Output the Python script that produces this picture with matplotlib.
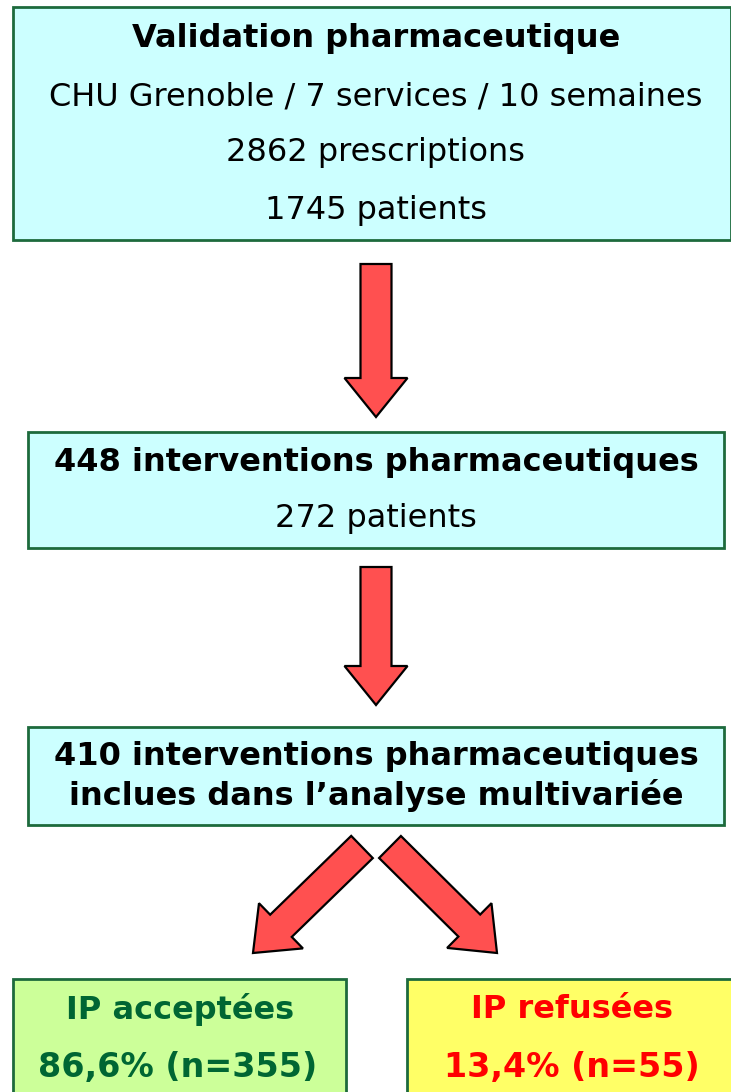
import matplotlib
matplotlib.use("Agg")
import matplotlib.pyplot as plt
from matplotlib.patches import Rectangle, FancyArrow

plt.rcParams['font.family'] = ['DejaVu Sans']

# box contents
box1_lines = ["Validation pharmaceutique",
              "CHU Grenoble / 7 services / 10 semaines",
              "2862 prescriptions",
              "1745 patients"]
box2_lines = ["448 interventions pharmaceutiques", "272 patients"]
box3_lines = ["410 interventions pharmaceutiques",
              "inclues dans l\u2019analyse multivariée"]
accepted_label = "IP acceptées"
accepted_pct = 86.6
accepted_n = 355
refused_label = "IP refusées"
refused_pct = 13.4
refused_n = 55

BORDER = "#1d6a3c"
CYAN = "#ccffff"
ARROW = "#ff5050"
FS = 23

fig = plt.figure(figsize=(7.31, 10.92), dpi=100)
ax = fig.add_axes([0, 0, 1, 1])
ax.set_xlim(0, 731)
ax.set_ylim(1092, 0)
ax.axis("off")


def box(x0, y0, x1, y1, fc):
    ax.add_patch(Rectangle((x0, y0), x1 - x0, y1 - y0, facecolor=fc,
                           edgecolor=BORDER, linewidth=2.0))


def arrow(x, y, dx, dy):
    ax.add_patch(FancyArrow(x, y, dx, dy, width=31, head_width=63,
                            head_length=39, length_includes_head=True,
                            facecolor=ARROW, edgecolor="black", linewidth=1.6))


def fmt(v):
    return ("%.1f" % v).replace(".", ",")


# box 1
box(13, 7, 731, 240, CYAN)
ys = [38, 97, 153, 211]
for i, (txt, y) in enumerate(zip(box1_lines, ys)):
    ax.text(376, y, txt, ha="center", va="center", fontsize=FS,
            fontweight="bold" if i == 0 else "normal", color="black")

arrow(376, 264, 0, 153)

# box 2
box(28, 432, 724, 548, CYAN)
for i, (txt, y) in enumerate(zip(box2_lines, [462, 519])):
    ax.text(376, y, txt, ha="center", va="center", fontsize=FS,
            fontweight="bold" if i == 0 else "normal", color="black")

arrow(376, 567, 0, 138)

# box 3
box(28, 727, 724, 825, CYAN)
for txt, y in zip(box3_lines, [757, 795]):
    ax.text(376, y, txt, ha="center", va="center", fontsize=FS,
            fontweight="bold", color="black")

arrow(362, 847, -109, 106)
arrow(390, 847, 107, 106)

# bottom boxes
box(13, 979, 346, 1100, "#ccff99")
ax.text(180, 1010, accepted_label, ha="center", va="center", fontsize=FS,
        fontweight="bold", color="#006633")
ax.text(178, 1068, "%s%% (n=%d)" % (fmt(accepted_pct), accepted_n),
        ha="center", va="center", fontsize=FS + 1, fontweight="bold",
        color="#006633")

box(407, 979, 740, 1100, "#ffff66")
ax.text(572, 1010, refused_label, ha="center", va="center", fontsize=FS,
        fontweight="bold", color="#ff0000")
ax.text(572, 1068, "%s%% (n=%d)" % (fmt(refused_pct), refused_n),
        ha="center", va="center", fontsize=FS + 1, fontweight="bold",
        color="#ff0000")

fig.savefig("out.png", dpi=100)
